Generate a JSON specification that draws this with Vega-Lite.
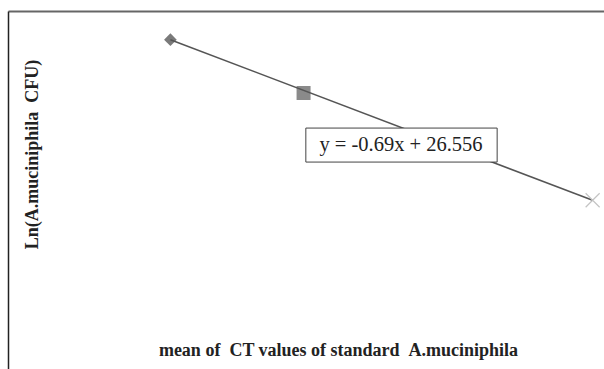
{
  "$schema": "https://vega.github.io/schema/vega-lite/v6.json",
  "width": 596,
  "height": 358,
  "autosize": {"type": "none"},
  "padding": {"left": 8, "top": 11, "right": 0, "bottom": 0},
  "background": "white",
  "config": {"view": {"stroke": null}},
  "datasets": {
    "points": [
      {"standard": "S1", "ct": 14.0, "lncfu": 16.9},
      {"standard": "S2", "ct": 18.1, "lncfu": 13.92},
      {"standard": "S3", "ct": 27.0, "lncfu": 7.93}
    ],
    "trend": [
      {"ct": 14.0, "lncfu": 16.896},
      {"ct": 27.0, "lncfu": 7.926}
    ],
    "label": [
      {"x1": 18.17, "x2": 24.06, "y1": 11.96, "y2": 10.06, "xc": 21.1, "yc": 11.01, "text": "y = -0.69x + 26.556"}
    ]
  },
  "encoding": {
    "x": {"type": "quantitative"},
    "y": {"type": "quantitative"}
  },
  "layer": [
    {
      "data": {"name": "points"},
      "transform": [{"filter": "datum.standard === 'S1'"}],
      "mark": {"type": "point", "shape": "diamond", "filled": true, "size": 160, "color": "#7a7a7a", "opacity": 1},
      "encoding": {
        "x": {"field": "ct", "type": "quantitative", "scale": {"domain": [9, 27.35], "nice": false, "zero": false},
          "axis": {"orient": "top", "domain": true, "domainColor": "#666666", "domainWidth": 2, "ticks": false, "labels": false, "grid": false,
            "title": "mean of \u00a0CT values of standard \u00a0A.muciniphila", "titleFont": "Liberation Serif", "titleFontWeight": "bold", "titleFontSize": 18, "titleColor": "#222222",
            "titleX": 330, "titleY": 339, "titleAlign": "center", "titleBaseline": "middle", "titleAnchor": null}},
        "y": {"field": "lncfu", "type": "quantitative", "scale": {"domain": [-1.5, 18.5], "nice": false, "zero": false},
          "axis": {"orient": "left", "domain": true, "domainColor": "#222222", "domainWidth": 1.5, "ticks": false, "labels": false, "grid": false,
            "title": "Ln(A.muciniphila \u00a0CFU)", "titleFont": "Liberation Serif", "titleFontWeight": "bold", "titleFontSize": 18, "titleColor": "#222222",
            "titleX": 24, "titleY": 143, "titleAlign": "center", "titleBaseline": "middle", "titleAngle": -90}}
      }
    },
    {
      "data": {"name": "points"},
      "transform": [{"filter": "datum.standard === 'S2'"}],
      "mark": {"type": "point", "shape": "square", "filled": true, "size": 196, "color": "#8a8a8a", "opacity": 1},
      "encoding": {
        "x": {"field": "ct", "type": "quantitative"},
        "y": {"field": "lncfu", "type": "quantitative"}
      }
    },
    {
      "data": {"name": "trend"},
      "mark": {"type": "line", "color": "#555555", "strokeWidth": 1.5},
      "encoding": {
        "x": {"field": "ct", "type": "quantitative"},
        "y": {"field": "lncfu", "type": "quantitative"}
      }
    },
    {
      "data": {"name": "points"},
      "transform": [{"filter": "datum.standard === 'S3'"}],
      "mark": {"type": "point", "shape": "M-1,-1L1,1M-1,1L1,-1", "filled": false, "size": 196, "color": "#c4c4c4", "strokeWidth": 1.2, "opacity": 1},
      "encoding": {
        "x": {"field": "ct", "type": "quantitative"},
        "y": {"field": "lncfu", "type": "quantitative"}
      }
    },
    {
      "data": {"name": "label"},
      "mark": {"type": "rect", "fill": "white", "stroke": "#444444", "strokeWidth": 1},
      "encoding": {
        "x": {"field": "x1", "type": "quantitative"},
        "x2": {"field": "x2"},
        "y": {"field": "y1", "type": "quantitative"},
        "y2": {"field": "y2"}
      }
    },
    {
      "data": {"name": "label"},
      "mark": {"type": "text", "font": "Liberation Serif", "fontSize": 20.5, "color": "#222222", "align": "center", "baseline": "middle"},
      "encoding": {
        "x": {"field": "xc", "type": "quantitative"},
        "y": {"field": "yc", "type": "quantitative"},
        "text": {"field": "text"}
      }
    }
  ]
}
